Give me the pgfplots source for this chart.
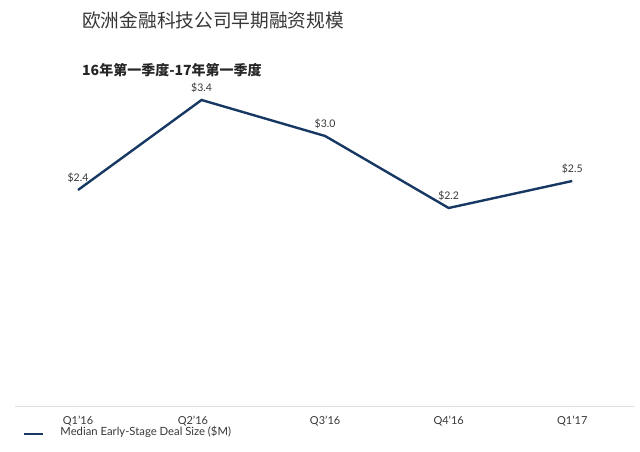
\documentclass[border=0pt]{standalone}
\usepackage{pgfplots}
\pgfplotsset{compat=1.18}
\usepackage{fontspec}
\setmainfont{Lato}
\newfontfamily\cjk{Noto Sans CJK SC}
\definecolor{navy}{RGB}{22,56,98}
\definecolor{txt}{RGB}{55,55,55}
\begin{document}
\begin{tikzpicture}[x=1pt,y=1pt]
\useasboundingbox (0,0) rectangle (640,452);
\node[anchor=west,inner sep=0pt,text=txt,font=\cjk\fontsize{18.7}{20}\selectfont] at (82,432) {欧洲金融科技公司早期融资规模};
\node[anchor=west,inner sep=0pt,text=black!85,font=\cjk\bfseries\fontsize{14}{16}\selectfont] at (82,382) {16年第一季度-17年第一季度};
\begin{axis}[
  at={(15pt,46pt)}, anchor=south west,
  scale only axis, width=619pt, height=324pt,
  xmin=-0.51, xmax=4.50, ymin=0, ymax=3.6,
  hide y axis,
  axis x line*=bottom,
  x axis line style={draw=gray!25, line width=0.8pt},
  xtick={0,0.93,2,3,4},
  xticklabels={Q1’16,Q2’16,Q3’16,Q4’16,Q1’17},
  major tick length=0pt,
  xticklabel style={font=\fontsize{11}{12}\selectfont, text=txt, yshift=-7pt},
  nodes near coords={\$\pgfmathprintnumber[fixed,fixed zerofill,precision=1,assume math mode=true]{\pgfplotspointmeta}},
  every node near coord/.append style={font=\fontsize{10.5}{12}\selectfont, text=txt, anchor=south, yshift=3pt},
  legend style={at={(axis description cs:0.0129,-0.08)}, anchor=west, draw=none, fill=none, inner sep=0pt,
    font=\fontsize{11.3}{12}\selectfont, text=txt, legend cell align=left},
  legend image code/.code={\draw[navy, line width=2.5pt] (0pt,-2pt) -- (19pt,-2pt); \path[draw=none] (0pt,0pt) -- (34pt,0pt);},
]
\addplot[navy, line width=2.4pt, mark=none] coordinates {(0,2.4) (1,3.4) (2,3.0) (3,2.2) (4,2.5)};
\addlegendentry{Median Early-Stage Deal Size (\$M)}
\end{axis}
\end{tikzpicture}
\end{document}
